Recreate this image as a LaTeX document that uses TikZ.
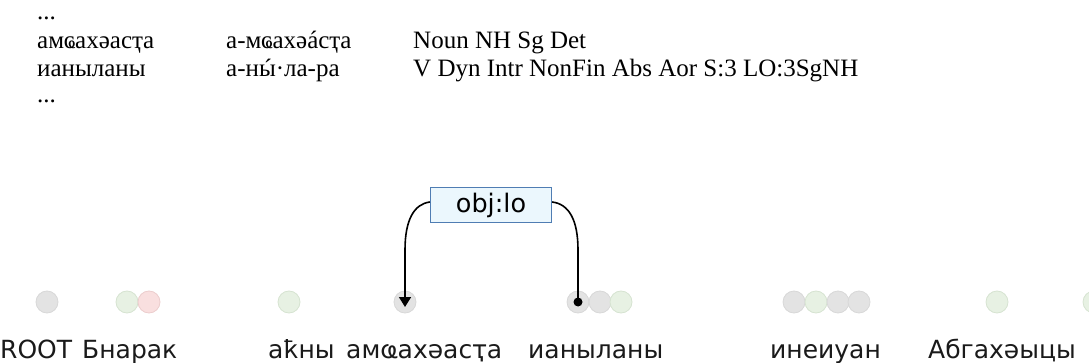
\documentclass[tikz,border=0pt]{standalone}
\usepackage{fontspec}
\setmainfont{Liberation Serif}
\newfontfamily\labelfont{DejaVu Sans}
\usetikzlibrary{arrows.meta}

% stress mark set centred over a letter
\newcommand\stressed[1]{\leavevmode\setbox0\hbox{#1}\rlap{\hbox to\wd0{\hss\kern0.06em ´\hss}}\box0}

\definecolor{tokgrey}{HTML}{E3E3E3}
\definecolor{tokgreyline}{HTML}{D8D8D8}
\definecolor{tokgreen}{HTML}{E7F1E3}
\definecolor{tokgreenline}{HTML}{D6E3D1}
\definecolor{tokred}{HTML}{F9DFDF}
\definecolor{tokredline}{HTML}{ECCDCD}
\definecolor{relfill}{HTML}{EBF7FD}
\definecolor{relline}{HTML}{4F7DB3}
\definecolor{wordcol}{HTML}{1A1A1A}

\tikzset{
  gloss/.style={anchor=base west, inner sep=0pt, font=\fontsize{25}{30}\selectfont},
  word/.style={anchor=base west, inner sep=0pt, text=wordcol, font=\labelfont\fontsize{25}{30}\selectfont},
  tok/.style={circle, minimum size=22pt, inner sep=0pt, line width=0.8pt},
  greytok/.style={tok, fill=tokgrey, draw=tokgreyline},
  greentok/.style={tok, fill=tokgreen, draw=tokgreenline},
  redtok/.style={tok, fill=tokred, draw=tokredline},
  rel/.style={draw=relline, fill=relfill, line width=1.2pt, minimum width=121pt, minimum height=35pt, inner sep=0pt, font=\labelfont\fontsize{25.5}{30}\selectfont},
  arc/.style={line width=1.6pt, black},
}

\begin{document}
\begin{tikzpicture}[x=1pt, y=-1pt]
\useasboundingbox (0,0) rectangle (1089,363);
\clip (0,0) rectangle (1089,363);

% analysis lines
\node[gloss] (dots1) at (37,20) {...};
\node[gloss] (w1) at (37,49) {амҩахәасҭа};
\node[gloss] (l1) at (226,49) {а-мҩахә\stressed{а}сҭа};
\node[gloss] (t1) at (413,49) {Noun NH Sg Det};
\node[gloss] (w2) at (37,77) {ианыланы};
\node[gloss] (l2) at (226,77) {а-н\stressed{ы}·ла-ра};
\node[gloss] (t2) at (413,77) {V Dyn Intr NonFin Abs Aor S:3 LO:3SgNH};
\node[gloss] (dots2) at (37,103) {...};

% token markers
\node[greytok]  (c0)  at (47,302) {};
\node[greentok] (c1a) at (127,302) {};
\node[redtok]   (c1b) at (149,302) {};
\node[greentok] (c2)  at (289,302) {};
\node[greytok]  (c3)  at (405,302) {};
\node[greytok]  (c4a) at (578,302) {};
\node[greytok]  (c4b) at (600,302) {};
\node[greentok] (c4c) at (621,302) {};
\node[greytok]  (c5a) at (794,302) {};
\node[greentok] (c5b) at (816,302) {};
\node[greytok]  (c5c) at (838,302) {};
\node[greytok]  (c5d) at (859,302) {};
\node[greentok] (c6)  at (997,302) {};
\node[greentok] (c7)  at (1094,302) {};

% words
\node[word] (r0) at (0,358) {ROOT};
\node[word] (r1) at (82,358) {Бнарак};
\node[word] (r2) at (268,358) {аҟны};
\node[word] (r3) at (346,358) {амҩахәасҭа};
\node[word] (r4) at (528,358) {ианыланы};
\node[word] (r5) at (770,358) {инеиуан};
\node[word] (r6) at (928,358) {Абгахәыцы};

% dependency arc
\node[rel] (lbl) at (491,205) {obj:lo};
\coordinate (bendL) at (405,250);
\coordinate (bendR) at (578,250);
\draw[arc, -{Triangle[width=12pt,length=10pt]}] ([yshift=3pt]lbl.west) .. controls (414,204) and (405,220) .. (bendL) -- ([yshift=-5pt]c3.center);
\draw[arc] ([yshift=3pt]lbl.east) .. controls (569,204) and (578,220) .. (bendR) -- (c4a.center);
\fill (c4a.center) circle (4.5pt);
\end{tikzpicture}
\end{document}
